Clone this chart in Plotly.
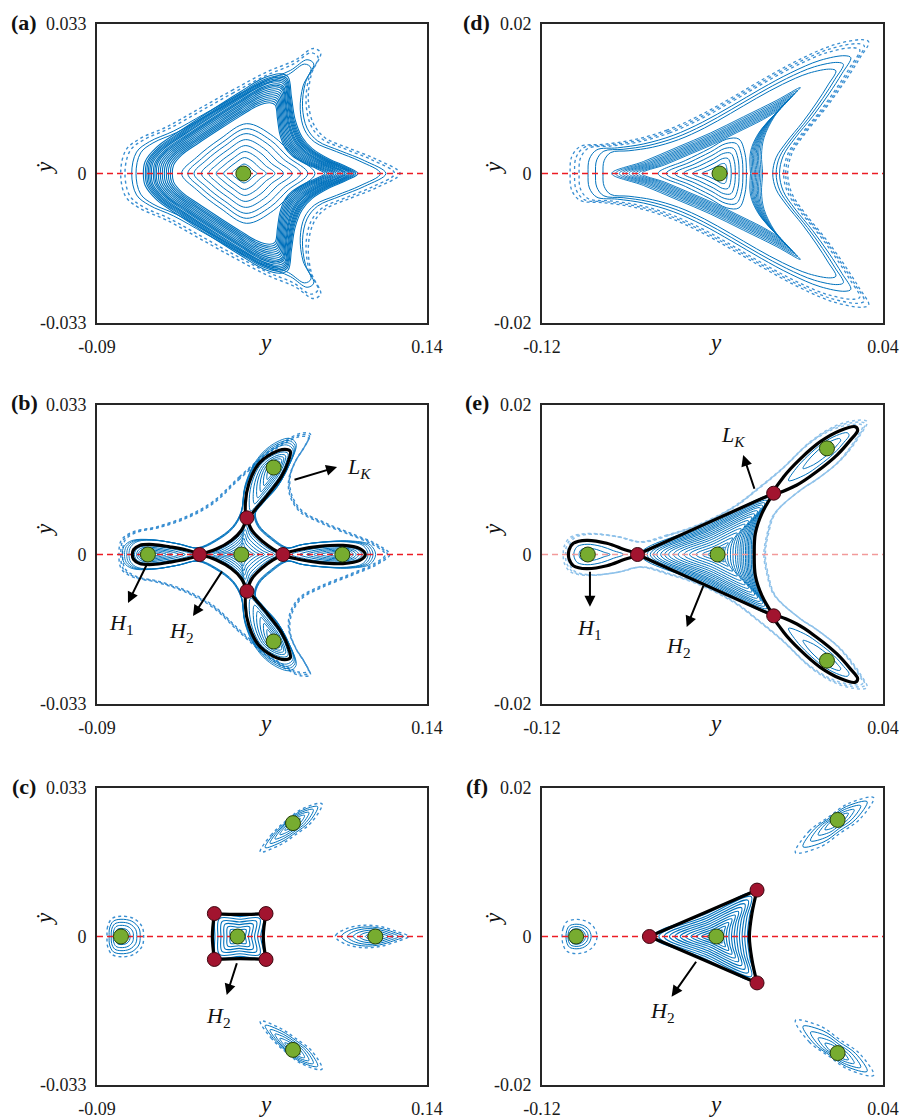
import plotly.graph_objects as go

# ---------------- styles ----------------
BLUE = '#0072BD'
BLUE_LIGHT = '#3a8fd2'
BLUE_PALE = '#8fc2ea'
GREEN = '#77AC30'
GREEN_EDGE = '#24400c'
RED = '#A2142F'
RED_EDGE = '#3d0610'
ZERO_RED = '#ec1c24'
ZERO_PINK = '#f29a9a'
FONT = 'Liberation Serif, DejaVu Serif, serif'

# ---------------- axes / ticks ----------------
X_RANGE_LEFT = [-0.09, 0.14]
Y_RANGE_LEFT = [-0.033, 0.033]
X_RANGE_RIGHT = [-0.12, 0.04]
Y_RANGE_RIGHT = [-0.02, 0.02]
X_TICKVALS_LEFT = [-0.09, 0.14]
X_TICKTEXT_LEFT = ['-0.09', '0.14']
Y_TICKVALS_LEFT = [-0.033, 0, 0.033]
Y_TICKTEXT_LEFT = ['-0.033', '0', '0.033']
X_TICKVALS_RIGHT = [-0.12, 0.04]
X_TICKTEXT_RIGHT = ['-0.12', '0.04']
Y_TICKVALS_RIGHT = [-0.02, 0, 0.02]
Y_TICKTEXT_RIGHT = ['-0.02', '0', '0.02']
PANEL_LABELS = ['(a)', '(d)', '(b)', '(e)', '(c)', '(f)']

# ---------------- panel (a) ----------------
A_CENTER = (0.012, 0.0)
A_OUT_UP = [(0.1212, 0), (0.1049, 0.0031), (0.0863, 0.0055), (0.0689, 0.0079), (0.0608, 0.0110),
            (0.0573, 0.0162), (0.0596, 0.0221), (0.0659, 0.0266), (0.0608, 0.0276), (0.0480, 0.0250),
            (0.0282, 0.0224), (0.0050, 0.0185), (-0.0182, 0.0144), (-0.0414, 0.0103), (-0.0600, 0.0077),
            (-0.0698, 0.0052), (-0.0735, 0)]
A_OUT_DOTTED_SCALES = [1.0, 0.965]
A_OUT_SCALES = [0.91, 0.875]
A_MID_UP = [(0.0919, 0), (0.0840, 0.0015), (0.0724, 0.0031), (0.0600, 0.0055), (0.0530, 0.0080),
            (0.0480, 0.0120), (0.0455, 0.0170), (0.0432, 0.0213), (0.0380, 0.0220), (0.0257, 0.0210),
            (0.0097, 0.0180), (-0.0092, 0.0142), (-0.0322, 0.0094), (-0.0484, 0.0058), (-0.0565, 0.0026),
            (-0.0577, 0)]
A_MID_SCALES = [1.0, 0.98, 0.965, 0.95, 0.935, 0.92, 0.9, 0.885, 0.87, 0.85, 0.83, 0.81, 0.79, 0.77,
                0.75, 0.73, 0.71]
A_IN_UP = [(0.0619, 0), (0.0468, 0.0040), (0.0329, 0.0082), (0.0143, 0.0110), (-0.0043, 0.0076),
           (-0.0205, 0.0036), (-0.0310, 0)]
A_IN_SCALES = [1.0, 0.9, 0.8, 0.68, 0.56, 0.44, 0.32, 0.19]
A_GREEN = [(0.012, 0.0)]

# ---------------- panel (b) ----------------
B_CENTER = (0.0106, 0.0)
B_OUT_UP = [(0.1140, 0), (0.1047, 0.0023), (0.0884, 0.0045), (0.0675, 0.0072), (0.0524, 0.0098),
            (0.0454, 0.0135), (0.0447, 0.0172), (0.0489, 0.0209), (0.0554, 0.0242), (0.0587, 0.0266),
            (0.0524, 0.0268), (0.0419, 0.0253), (0.0280, 0.0223), (0.0094, 0.0172), (-0.0092, 0.0117),
            (-0.0277, 0.0084), (-0.0487, 0.0061), (-0.0649, 0.0050), (-0.0730, 0.0032), (-0.0747, 0)]
B_OUT_SCALES = [1.0, 0.985, 0.97]
B_MID_UP = [(0.0989, 0), (0.0954, 0.0020), (0.0838, 0.0028), (0.0675, 0.0027), (0.0512, 0.0021),
            (0.0415, 0.0014), (0.0303, 0.0036), (0.0222, 0.0061), (0.0199, 0.0087), (0.0257, 0.0113),
            (0.0350, 0.0146), (0.0418, 0.0184), (0.0466, 0.0231), (0.0419, 0.0242), (0.0292, 0.0225),
            (0.0192, 0.0190), (0.0129, 0.0142), (0.0106, 0.0091), (0.0048, 0.0058), (-0.0068, 0.0030),
            (-0.0185, 0.0014), (-0.0324, 0.0023), (-0.0487, 0.0031), (-0.0614, 0.0029), (-0.0665, 0.0017),
            (-0.0677, 0)]
B_MID_SCALES = [1.0, 1.02, 1.04, 1.06]
B_DIAMOND_UP = [(-0.0185, 0), (-0.0068, 0.0012), (0.0036, 0.0031), (0.0106, 0.0053), (0.0145, 0.0081),
                (0.0180, 0.0053), (0.0257, 0.0028), (0.0327, 0.0012), (0.0396, 0)]
B_DIAMOND_SCALES = [0.9, 0.8, 0.68, 0.56, 0.44, 0.32, 0.2]
B_LOBE_LEFT_UP = [(-0.0185, 0), (-0.0277, 0.0010), (-0.0394, 0.0017), (-0.0510, 0.0022), (-0.0603, 0.0020),
                  (-0.0644, 0.0011), (-0.0654, 0)]
B_LOBE_RIGHT_UP = [(0.0396, 0), (0.0512, 0.0011), (0.0652, 0.0018), (0.0814, 0.0020), (0.0931, 0.0013),
                   (0.0970, 0)]
B_LOBE_TOP = [(0.0145, 0.0081), (0.0134, 0.0113), (0.0159, 0.0157), (0.0222, 0.0198), (0.0315, 0.0222),
              (0.0408, 0.0232), (0.0447, 0.0228), (0.0433, 0.0205), (0.0385, 0.0172), (0.0308, 0.0139),
              (0.0222, 0.0106), (0.0145, 0.0081)]
B_LOBE_SCALES = [0.86, 0.72, 0.6, 0.48, 0.36, 0.24]
B_GREEN = [(0.0106, 0), (-0.0545, 0), (0.0810, 0), (0.0331, 0.0192), (0.0331, -0.0192)]
B_RED = [(-0.0185, 0), (0.0396, 0), (0.0145, 0.0081), (0.0145, -0.0081)]

# ---------------- panel (c) ----------------
C_CENTER = (0.0080, 0.0)
C_SQUARE_UP = [(0.0259, 0), (0.0278, 0.0051), (0.0099, 0.0049), (-0.0082, 0.0051), (-0.0096, 0)]
C_SQUARE_SCALES = [0.9, 0.78, 0.66, 0.54, 0.42, 0.3, 0.18]
C_ISL_LEFT_UP = [(-0.0575, 0), (-0.0586, 0.0022), (-0.0644, 0.0040), (-0.0733, 0.0045), (-0.0795, 0.0040),
                 (-0.0826, 0.0022), (-0.0830, 0)]
C_ISL_RIGHT_UP = [(0.1272, 0), (0.1191, 0.0011), (0.1075, 0.0022), (0.0958, 0.0025), (0.0842, 0.0018),
                  (0.0773, 0.0006), (0.0761, 0)]
C_ISL_TOP = [(0.0668, 0.0295), (0.0526, 0.0283), (0.0417, 0.0257), (0.0317, 0.0227), (0.0238, 0.0188),
             (0.0373, 0.0203), (0.0487, 0.0227), (0.0596, 0.0254), (0.0668, 0.0295)]
C_ISL_SCALES = [0.85, 0.7, 0.55, 0.4, 0.25]
C_GREEN = [(0.0080, 0), (-0.0733, 0), (0.1040, 0), (0.0466, 0.0252), (0.0466, -0.0252)]
C_RED = [(-0.0082, 0.0051), (0.0278, 0.0051), (-0.0082, -0.0051), (0.0278, -0.0051)]

# ---------------- panel (d) ----------------
D_CENTER = (-0.0367, 0.0)
D_OUT_UP = [(-0.0047, 0), (-0.0027, 0.0027), (0.0036, 0.0054), (0.0130, 0.0087), (0.0216, 0.0121),
            (0.0286, 0.0152), (0.0333, 0.0176), (0.0302, 0.0179), (0.0169, 0.0172), (0.0012, 0.0153),
            (-0.0145, 0.0129), (-0.0301, 0.0103), (-0.0458, 0.0078), (-0.0614, 0.0058), (-0.0771, 0.0045),
            (-0.0912, 0.0039), (-0.1021, 0.0036), (-0.1061, 0.0022), (-0.1068, 0)]
D_OUT_DOTTED_SCALES = [1.0, 0.97, 0.94]
D_OUT_SCALES = [0.88, 0.83, 0.78]
D_MID_UP = [(-0.0165, 0), (-0.0170, 0.0025), (-0.0158, 0.0048), (-0.0110, 0.0076), (-0.0040, 0.0100),
            (0.0012, 0.0115), (-0.0098, 0.0098), (-0.0254, 0.0076), (-0.0411, 0.0054), (-0.0567, 0.0035),
            (-0.0724, 0.0016), (-0.0873, 0)]
D_MID_SCALES = [1.0, 0.965, 0.93, 0.9, 0.87, 0.84, 0.81, 0.78, 0.75, 0.72]
D_IN_UP = [(-0.0230, 0), (-0.0238, 0.0030), (-0.0268, 0.0050), (-0.0330, 0.0050), (-0.0420, 0.0036),
           (-0.0540, 0.0019), (-0.0680, 0)]
D_IN_SCALES = [0.92, 0.8, 0.67, 0.54, 0.4, 0.26]
D_GREEN = [(-0.0367, 0)]

# ---------------- panel (e) ----------------
E_CENTER = (-0.0376, 0.0)
E_OUT_UP = [(-0.0152, 0), (-0.0137, 0.0028), (-0.0105, 0.0055), (0.0012, 0.0086), (0.0106, 0.0104),
            (0.0208, 0.0128), (0.0294, 0.0160), (0.0325, 0.0178), (0.0263, 0.0179), (0.0169, 0.0171),
            (0.0059, 0.0151), (-0.0066, 0.0117), (-0.0176, 0.0091), (-0.0301, 0.0064), (-0.0458, 0.0041),
            (-0.0614, 0.0026), (-0.0740, 0.0017), (-0.0849, 0.0024), (-0.0990, 0.0028), (-0.1068, 0.0023),
            (-0.1097, 0.0010), (-0.1100, 0)]
E_OUT_SCALES = [1.0, 0.985, 0.97]
E_TRI_UP = [(-0.0204, 0), (-0.0199, 0.0028), (-0.0168, 0.0055), (-0.0113, 0.0082), (-0.0433, 0.0041),
            (-0.0752, 0)]
E_TRI_SCALES = [0.96, 0.92, 0.88, 0.84, 0.8, 0.76, 0.71, 0.66, 0.61, 0.55, 0.49, 0.42, 0.35, 0.27, 0.19, 0.12]
E_LOBE_LEFT_UP = [(-0.0752, 0), (-0.0818, 0.0007), (-0.0896, 0.0015), (-0.0990, 0.0019), (-0.1053, 0.0015),
                  (-0.1073, 0.0006), (-0.1076, 0)]
E_LOBE_TOP = [(-0.0113, 0.0082), (-0.0066, 0.0104), (0.0012, 0.0128), (0.0106, 0.0151), (0.0200, 0.0166),
              (0.0270, 0.0171), (0.0281, 0.0166), (0.0247, 0.0153), (0.0184, 0.0133), (0.0090, 0.0111),
              (-0.0004, 0.0093), (-0.0113, 0.0082)]
E_LOBE_SCALES = [0.72, 0.45]
E_GREEN = [(-0.0376, 0), (-0.0985, 0), (0.0137, 0.0142), (0.0137, -0.0142)]
E_RED = [(-0.0752, 0), (-0.0113, 0.0082), (-0.0113, -0.0082)]

# ---------------- panel (f) ----------------
F_CENTER = (-0.0382, 0.0)
F_TRI_UP = [(-0.0227, 0), (-0.0215, 0.0031), (-0.0191, 0.00625), (-0.0445, 0.0031), (-0.0696, 0)]
F_TRI_SCALES = [0.94, 0.86, 0.78, 0.7, 0.62, 0.54, 0.46, 0.38, 0.3, 0.22, 0.14]
F_ISL_LEFT_UP = [(-0.0942, 0), (-0.0958, 0.0013), (-0.0997, 0.0021), (-0.1040, 0.0023), (-0.1083, 0.0020),
                 (-0.1101, 0.0011), (-0.1106, 0)]
F_ISL_LEFT_SCALES = [0.72, 0.58, 0.45, 0.32]
F_ISL_TOP = [(0.0356, 0.0187), (0.0237, 0.0179), (0.0145, 0.0161), (0.0054, 0.0142), (-0.0011, 0.0113),
             (0.0108, 0.0121), (0.0198, 0.0139), (0.0291, 0.0158), (0.0356, 0.0187)]
F_ISL_SCALES = [0.82, 0.64, 0.46, 0.3]
F_GREEN = [(-0.0382, 0), (-0.1040, 0), (0.0187, 0.0157), (0.0187, -0.0157)]
F_RED = [(-0.0696, 0), (-0.0191, 0.00625), (-0.0191, -0.00625)]

# ---------------- annotations (panel index, head x, head y, tail x, tail y) ----------------
ARROWS = [
    (3, 0.0773, 0.0193, 0.0466, 0.0164),
    (3, -0.0684, -0.0107, -0.0551, -0.0021),
    (3, -0.0231, -0.0136, -0.0022, -0.0034),
    (4, -0.0256, 0.0133, -0.0201, 0.0086),
    (4, -0.0975, -0.0070, -0.0975, -0.0021),
    (4, -0.0521, -0.0097, -0.0440, -0.0040),
    (5, 0.0004, -0.0130, 0.0078, -0.0056),
    (6, -0.0592, -0.0081, -0.0472, -0.0032),
]
LABELS = [
    (3, 0.0925, 0.0191, '<i>L</i><sub><i>K</i></sub>'),
    (3, -0.0726, -0.0153, '<i>H</i><sub>1</sub>'),
    (3, -0.0308, -0.0171, '<i>H</i><sub>2</sub>'),
    (4, -0.0304, 0.0158, '<i>L</i><sub><i>K</i></sub>'),
    (4, -0.0975, -0.0099, '<i>H</i><sub>1</sub>'),
    (4, -0.0561, -0.0124, '<i>H</i><sub>2</sub>'),
    (5, -0.0054, -0.0178, '<i>H</i><sub>2</sub>'),
    (6, -0.0634, -0.0102, '<i>H</i><sub>2</sub>'),
]

# ---------------- layout geometry (pixels) ----------------
W, H = 904, 1120
COL_PX = [(97, 427), (542, 883)]
ROW_PX = [(24, 323), (405, 704), (788, 1085)]


def mirror(upper):
    return list(upper) + [(x, -y) for (x, y) in upper[-2::-1]]


def flip(pts):
    return [(x, -y) for (x, y) in pts]


def scale(pts, c, s):
    return [(c[0] + s * (x - c[0]), c[1] + s * (y - c[1])) for (x, y) in pts]


def reseam(loop):
    core = loop[:-1]
    k = len(core) // 3
    rot = core[k:] + core[:k]
    return rot + [rot[0]]


def refs(i):
    return ('x' if i == 1 else f'x{i}'), ('y' if i == 1 else f'y{i}')


fig = go.Figure()


def curve(i, pts, color=BLUE, width=1.0, dash='solid', spline=True):
    xr, yr = refs(i)
    fig.add_trace(go.Scatter(
        x=[p[0] for p in pts], y=[p[1] for p in pts], mode='lines', xaxis=xr, yaxis=yr,
        line=dict(color=color, width=width, dash=dash, shape='spline' if spline else 'linear', smoothing=1.0),
        hoverinfo='skip', showlegend=False))


def family(i, loop, center, scales, **kw):
    for s in scales:
        curve(i, scale(loop, center, s), **kw)


def zero_line(i, xrange, color=ZERO_RED):
    curve(i, [(xrange[0], 0), (xrange[1], 0)], color=color, width=1.6, dash='6px,4px', spline=False)


def points(i, pts, color, edge, size):
    xr, yr = refs(i)
    fig.add_trace(go.Scatter(
        x=[p[0] for p in pts], y=[p[1] for p in pts], mode='markers', xaxis=xr, yaxis=yr,
        marker=dict(size=size, color=color, line=dict(color=edge, width=1)),
        hoverinfo='skip', showlegend=False))


SEP = dict(color='black', width=3.2)

# ---- (a) panel 1
loop = reseam(mirror(A_OUT_UP))
family(1, loop, A_CENTER, A_OUT_DOTTED_SCALES, color=BLUE_LIGHT, width=1.4, dash='dot')
family(1, loop, A_CENTER, A_OUT_SCALES, color=BLUE, width=1.0)
family(1, reseam(mirror(A_MID_UP)), A_CENTER, A_MID_SCALES, color=BLUE, width=1.1)
family(1, reseam(mirror(A_IN_UP)), A_CENTER, A_IN_SCALES, color=BLUE, width=1.0)
zero_line(1, X_RANGE_LEFT)
points(1, A_GREEN, GREEN, GREEN_EDGE, 15)

# ---- (b) panel 3
family(3, reseam(mirror(B_OUT_UP)), B_CENTER, B_OUT_SCALES, color=BLUE_LIGHT, width=1.4, dash='dot')
family(3, reseam(mirror(B_MID_UP)), B_CENTER, B_MID_SCALES, color=BLUE, width=0.9)
family(3, reseam(mirror(B_DIAMOND_UP)), B_CENTER, B_DIAMOND_SCALES, color=BLUE, width=1.0)
family(3, reseam(mirror(B_LOBE_LEFT_UP)), B_GREEN[1], B_LOBE_SCALES, color=BLUE, width=1.0)
family(3, reseam(mirror(B_LOBE_RIGHT_UP)), B_GREEN[2], B_LOBE_SCALES, color=BLUE, width=1.0)
family(3, reseam(B_LOBE_TOP), B_GREEN[3], B_LOBE_SCALES, color=BLUE, width=1.0)
family(3, reseam(flip(B_LOBE_TOP)), B_GREEN[4], B_LOBE_SCALES, color=BLUE, width=1.0)
zero_line(3, X_RANGE_LEFT)
curve(3, mirror(B_LOBE_LEFT_UP), **SEP)
curve(3, mirror(B_LOBE_RIGHT_UP), **SEP)
curve(3, B_LOBE_TOP, **SEP)
curve(3, flip(B_LOBE_TOP), **SEP)
curve(3, B_DIAMOND_UP[:5], **SEP)
curve(3, B_DIAMOND_UP[4:], **SEP)
curve(3, flip(B_DIAMOND_UP[:5]), **SEP)
curve(3, flip(B_DIAMOND_UP[4:]), **SEP)
points(3, B_GREEN, GREEN, GREEN_EDGE, 15)
points(3, B_RED, RED, RED_EDGE, 14)

# ---- (c) panel 5
family(5, reseam(mirror(C_SQUARE_UP)), C_CENTER, C_SQUARE_SCALES, color=BLUE, width=1.1)
for loop_c, cen in [(reseam(mirror(C_ISL_LEFT_UP)), C_GREEN[1]), (reseam(mirror(C_ISL_RIGHT_UP)), C_GREEN[2]),
                    (reseam(C_ISL_TOP), C_GREEN[3]), (reseam(flip(C_ISL_TOP)), C_GREEN[4])]:
    family(5, loop_c, cen, [1.0], color=BLUE_LIGHT, width=1.4, dash='dot')
    family(5, loop_c, cen, C_ISL_SCALES, color=BLUE, width=1.0)
zero_line(5, X_RANGE_LEFT)
sq = C_SQUARE_UP
curve(5, [sq[3], sq[2], sq[1]], **SEP)
curve(5, flip([sq[3], sq[2], sq[1]]), **SEP)
curve(5, [sq[1], sq[0], (sq[1][0], -sq[1][1])], **SEP)
curve(5, [sq[3], sq[4], (sq[3][0], -sq[3][1])], **SEP)
points(5, C_GREEN, GREEN, GREEN_EDGE, 15)
points(5, C_RED, RED, RED_EDGE, 14)

# ---- (d) panel 2
loop = reseam(mirror(D_OUT_UP))
family(2, loop, D_CENTER, D_OUT_DOTTED_SCALES, color=BLUE_LIGHT, width=1.3, dash='dot')
family(2, loop, D_CENTER, D_OUT_SCALES, color=BLUE, width=1.0)
family(2, reseam(mirror(D_MID_UP)), D_CENTER, D_MID_SCALES, color=BLUE, width=0.9)
family(2, reseam(mirror(D_IN_UP)), D_CENTER, D_IN_SCALES, color=BLUE, width=1.0)
zero_line(2, X_RANGE_RIGHT)
points(2, D_GREEN, GREEN, GREEN_EDGE, 15)

# ---- (e) panel 4
family(4, reseam(mirror(E_OUT_UP)), E_CENTER, E_OUT_SCALES, color=BLUE_PALE, width=1.5, dash='dot')
family(4, reseam(mirror(E_TRI_UP)), E_CENTER, E_TRI_SCALES, color=BLUE, width=1.0)
family(4, reseam(mirror(E_LOBE_LEFT_UP)), E_GREEN[1], E_LOBE_SCALES, color=BLUE, width=1.0)
family(4, reseam(E_LOBE_TOP), E_GREEN[2], E_LOBE_SCALES, color=BLUE, width=1.0)
family(4, reseam(flip(E_LOBE_TOP)), E_GREEN[3], E_LOBE_SCALES, color=BLUE, width=1.0)
zero_line(4, X_RANGE_RIGHT, color=ZERO_PINK)
curve(4, mirror(E_LOBE_LEFT_UP), **SEP)
curve(4, E_LOBE_TOP, **SEP)
curve(4, flip(E_LOBE_TOP), **SEP)
curve(4, [E_TRI_UP[5], E_TRI_UP[4], E_TRI_UP[3]], **SEP)
curve(4, flip([E_TRI_UP[5], E_TRI_UP[4], E_TRI_UP[3]]), **SEP)
curve(4, list(reversed(E_TRI_UP[:4])) + flip(E_TRI_UP[1:4]), **SEP)
points(4, E_GREEN, GREEN, GREEN_EDGE, 15)
points(4, E_RED, RED, RED_EDGE, 14)

# ---- (f) panel 6
family(6, reseam(mirror(F_TRI_UP)), F_CENTER, F_TRI_SCALES, color=BLUE, width=1.1)
lf = reseam(mirror(F_ISL_LEFT_UP))
family(6, lf, F_GREEN[1], [1.0], color=BLUE_LIGHT, width=1.3, dash='dot')
family(6, lf, F_GREEN[1], F_ISL_LEFT_SCALES, color=BLUE, width=1.0)
for loop_f, cen in [(reseam(F_ISL_TOP), F_GREEN[2]), (reseam(flip(F_ISL_TOP)), F_GREEN[3])]:
    family(6, loop_f, cen, [1.0], color=BLUE_LIGHT, width=1.3, dash='dot')
    family(6, loop_f, cen, F_ISL_SCALES, color=BLUE, width=1.0)
zero_line(6, X_RANGE_RIGHT)
curve(6, [F_TRI_UP[4], F_TRI_UP[3], F_TRI_UP[2]], **SEP)
curve(6, flip([F_TRI_UP[4], F_TRI_UP[3], F_TRI_UP[2]]), **SEP)
curve(6, list(reversed(F_TRI_UP[:3])) + flip(F_TRI_UP[1:3]), **SEP)
points(6, F_GREEN, GREEN, GREEN_EDGE, 15)
points(6, F_RED, RED, RED_EDGE, 14)

# ---------------- axes ----------------
layout = {}
annotations = []
for i in range(1, 7):
    row = (i - 1) // 2
    col = (i - 1) % 2
    x0, x1 = COL_PX[col]
    y0, y1 = ROW_PX[row]
    left = col == 0
    xr = X_RANGE_LEFT if left else X_RANGE_RIGHT
    yr = Y_RANGE_LEFT if left else Y_RANGE_RIGHT
    common = dict(showline=True, mirror=True, linecolor='#262626', linewidth=2, showgrid=False,
                  zeroline=False, ticks='', fixedrange=True, automargin=False,
                  tickfont=dict(family=FONT, size=18, color='#1a1a1a'))
    xs = '' if i == 1 else str(i)
    layout['xaxis' + xs] = dict(common, domain=[x0 / W, x1 / W], range=xr, anchor='y' + xs,
                                tickmode='array',
                                tickvals=X_TICKVALS_LEFT if left else X_TICKVALS_RIGHT,
                                ticktext=X_TICKTEXT_LEFT if left else X_TICKTEXT_RIGHT,
                                ticklabelstandoff=6)
    layout['yaxis' + xs] = dict(common, domain=[1 - y1 / H, 1 - y0 / H], range=yr, anchor='x' + xs,
                                tickmode='array',
                                tickvals=Y_TICKVALS_LEFT if left else Y_TICKVALS_RIGHT,
                                ticktext=Y_TICKTEXT_LEFT if left else Y_TICKTEXT_RIGHT,
                                ticklabelstandoff=5)
    # panel label
    lab_x = 24 if left else 477
    annotations.append(dict(text='<b>' + PANEL_LABELS[i - 1] + '</b>', xref='paper', yref='paper',
                            x=lab_x / W, y=1 - (y0 - 2) / H, xanchor='center', yanchor='middle',
                            showarrow=False, font=dict(family=FONT, size=22, color='#111')))
    # x title
    annotations.append(dict(text='<i>y</i>', xref='paper', yref='paper', xanchor='center', yanchor='middle',
                            x=((x0 + x1) / 2 + 3) / W, y=1 - (y1 + 19) / H, showarrow=False,
                            font=dict(family=FONT, size=23, color='#111')))
    # y title
    ytit_py = [168, 530, 919][row]
    annotations.append(dict(text='<i>ẏ</i>', xref='paper', yref='paper', textangle=-90,
                            xanchor='center', yanchor='middle',
                            x=(44 if left else 493) / W, y=1 - ytit_py / H, showarrow=False,
                            font=dict(family=FONT, size=23, color='#111')))

for (i, hx, hy, tx, ty) in ARROWS:
    xr, yr = refs(i)
    annotations.append(dict(x=hx, y=hy, ax=tx, ay=ty, xref=xr, yref=yr, axref=xr, ayref=yr,
                            text='', showarrow=True, arrowhead=2, arrowsize=1.1, arrowwidth=2,
                            arrowcolor='black', standoff=0, startstandoff=0))
for (i, lx, ly, txt) in LABELS:
    xr, yr = refs(i)
    annotations.append(dict(x=lx, y=ly, xref=xr, yref=yr, text=txt, showarrow=False,
                            font=dict(family=FONT, size=22, color='#111')))

fig.update_layout(width=W, height=H, margin=dict(l=0, r=0, t=0, b=0, autoexpand=False),
                  paper_bgcolor='white', plot_bgcolor='white', showlegend=False,
                  annotations=annotations, **layout)

fig.write_html('out.html')
